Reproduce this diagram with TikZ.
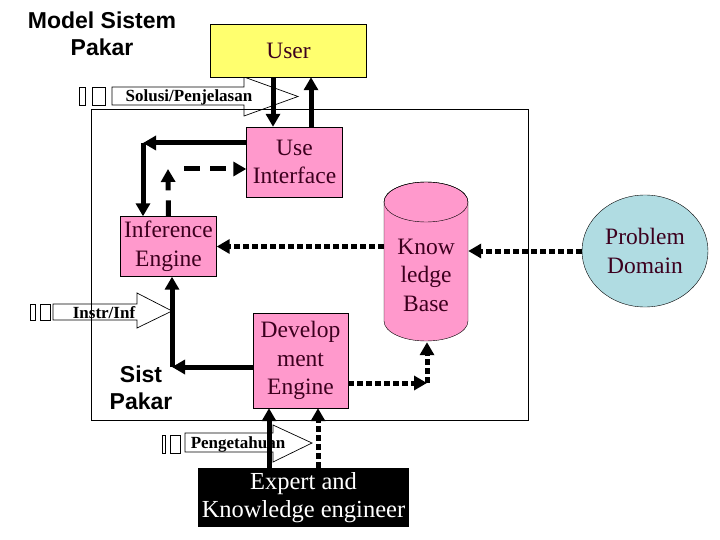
\documentclass[tikz,border=0pt]{standalone}
\usepackage{fontspec}
\setmainfont{Liberation Serif}
\setsansfont{Liberation Sans}
\usetikzlibrary{arrows.meta, calc, shapes.geometric}

\definecolor{boxpink}{RGB}{255,153,204}
\definecolor{boxyellow}{RGB}{255,255,110}
\definecolor{domainblue}{RGB}{176,220,226}
\definecolor{boxtext}{RGB}{60,0,30}

\begin{document}
\begin{tikzpicture}[x=1pt, y=-1pt,
  box/.style={draw, fill=boxpink, text=boxtext, align=center, inner sep=0pt,
    font=\fontsize{23.5}{28.5}\selectfont},
  solidarr/.style={line width=5pt, -{Triangle[length=13pt,width=14pt]}},
  dasharr/.style={solidarr, dash pattern=on 16pt off 10pt},
  dotarr/.style={solidarr, dash pattern=on 6pt off 3pt},
  blockarr/.style={draw, line width=0.7pt},
  arrlabel/.style={font=\bfseries\fontsize{17}{20}\selectfont, inner sep=0pt},
  sanslabel/.style={font=\sffamily\bfseries\fontsize{23}{27.5}\selectfont, align=center}]
\useasboundingbox (0,0) rectangle (720,540);
% Frame of the expert system
\draw[line width=0.8pt] (91,109) rectangle (528,420);
% Knowledge base cylinder
\draw[fill=boxpink] (384,202) -- (384,321) arc[start angle=180, end angle=360, x radius=42, y radius=-20]
      -- (468,202) arc[start angle=0, end angle=180, x radius=42, y radius=-20] -- cycle;
\draw (426,202) ellipse[x radius=42, y radius=20];
\node[text=boxtext, align=center, inner sep=0pt, minimum width=84pt, minimum height=134pt,
      font=\fontsize{23.5}{28.5}\selectfont] (kb) at (426,275) {Know\\ledge\\Base};
% Block arrows with their labels
\draw[blockarr] (112,87) -- (244,87) -- (244,77) -- (298,96.5) -- (244,116) -- (244,105) -- (112,105) -- cycle;
\node[arrlabel] (solusi) at (189,97) {Solusi/Penjelasan};
\draw[blockarr] (79,87) rectangle (85,105) (92,87) rectangle (105,105);
\draw[blockarr] (53,304) -- (137,304) -- (137,293) -- (172,311) -- (137,328) -- (137,320) -- (53,320) -- cycle;
\node[arrlabel] (instr) at (104,313) {Instr/Inf};
\draw[blockarr] (30,304) rectangle (35,320) (40,304) rectangle (50,320);
\draw[blockarr] (185,433) -- (273,433) -- (273,425) -- (312,443) -- (273,462) -- (273,452) -- (185,452) -- cycle;
\node[arrlabel] (pengetahuan) at (238,444) {Pengetahuan};
\draw[blockarr] (162,435) rectangle (165,453) (170,435) rectangle (180,453);
% Texts
\node[sanslabel] (title) at (102,34) {Model Sistem\\Pakar};
\node[sanslabel] (sist) at (141,388) {Sist\\Pakar};
% Boxes
\node[box, fill=boxyellow, minimum width=156pt, minimum height=53pt] (user) at (288.5,50.5) {User};
\node[box, minimum width=96pt, minimum height=70pt] (ui) at (294.5,162) {Use\\Interface};
\node[box, minimum width=96pt, minimum height=60pt] (ie) at (168.5,246.5) {Inference\\Engine};
\node[box, minimum width=95pt, minimum height=95pt] (de) at (300.5,360.5) {Develop\\ment\\Engine};
\node[draw, ellipse, fill=domainblue, text=boxtext, align=center, inner sep=0pt,
      minimum width=126pt, minimum height=112pt, font=\fontsize{23.5}{28.5}\selectfont]
      (pd) at (645,251) {Problem\\Domain};
\node[fill=black, text=white, align=center, inner sep=0pt, minimum width=211pt, minimum height=59pt,
      font=\fontsize{24.5}{29}\selectfont] (expert) at (303.5,497.5) {\raisebox{-3pt}{\shortstack{Expert and\\[3pt]Knowledge engineer}}};
% Corners
\coordinate (c1) at (143,143);
\coordinate (c2) at (168,169);
\coordinate (c3) at (172,367);
\coordinate (c4) at (427,383);
% Connectors
\draw[solidarr] ([xshift=-15.5pt]user.south) -- ([xshift=-21.5pt]ui.north);
\draw[solidarr] ([xshift=16.5pt]ui.north) -- ([xshift=22.5pt]user.south);
\draw[solidarr] ([yshift=19pt]ui.west) -- (c1);
\draw[solidarr] (c1) -- (c1 |- ie.north);
\draw[dasharr] (ie.north) -- (c2);
\draw[dasharr] ([xshift=16pt]c2) -- (c2 -| ui.west);
\draw[dotarr] (ie.east -| kb.west) -- (ie.east);
\draw[dotarr] (pd.west) -- (pd.west -| kb.east);
\draw[solidarr] ([yshift=-6.5pt]de.west) -- (c3);
\draw[solidarr] (c3) -- (c3 |- ie.south);
\draw[dotarr] ([yshift=-22.5pt]de.east) -- (c4);
\draw[dotarr] (c4) -- (c4 |- kb.south);
\draw[solidarr] ([xshift=-34.5pt]expert.north) -- ([xshift=-31.5pt]de.south);
\draw[dotarr] ([xshift=14.5pt]expert.north) -- ([xshift=17.5pt]de.south);
\end{tikzpicture}
\end{document}
